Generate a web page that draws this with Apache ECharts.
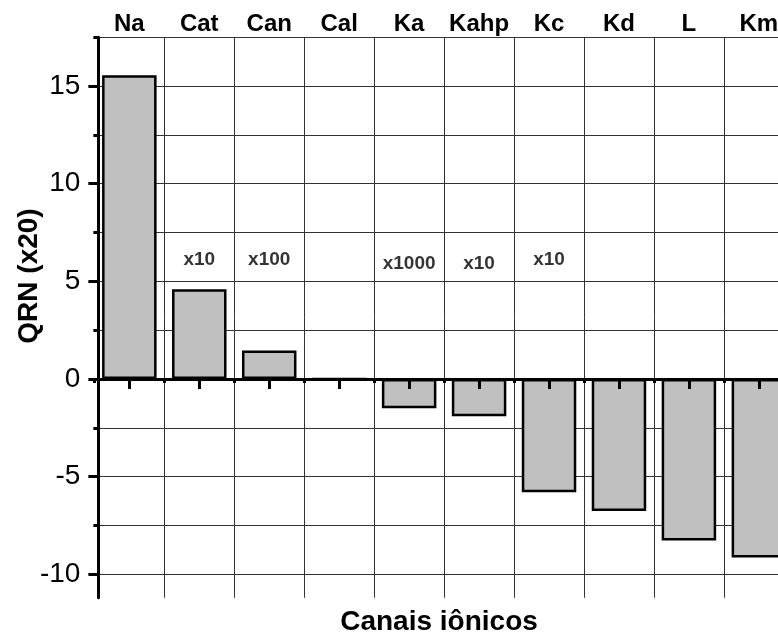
<!DOCTYPE html>
<html>
<head>
<meta charset="utf-8">
<script src="https://cdn.jsdelivr.net/npm/echarts@6/dist/echarts.min.js"></script>
<style>html,body{margin:0;padding:0;background:#fff;overflow:hidden;width:778px;height:639px;}#c{width:800px;height:639px;}</style>
</head>
<body>
<div id="c"></div>
<script>
const categories = ['Na', 'Cat', 'Can', 'Cal', 'Ka', 'Kahp', 'Kc', 'Kd', 'L', 'Km'];
const values = [15.55, 4.6, 1.46, 0, -1.49, -1.9, -5.79, -6.75, -8.27, -9.14];
const majorTicks = [-10, -5, 0, 5, 10, 15];
const minorTicks = [-10, -7.5, -5, -2.5, 0, 2.5, 5, 7.5, 10, 12.5, 15, 17.5];
const annotCats = ['Cat', 'Can', 'Ka', 'Kahp', 'Kc'];
const annotTexts = ['x10', 'x100', 'x1000', 'x10', 'x10'];
const annotY = [6.12, 6.12, 5.91, 5.91, 6.12];

const FF = '"Liberation Sans", Arial, sans-serif';
const chart = echarts.init(document.getElementById('c'), null, {renderer: 'canvas', width: 800, height: 639});
const option = {
  animation: false,
  backgroundColor: '#fff',
  grid: {left: 94.35, right: 6.15, top: 37.2, bottom: 41.2, containLabel: false},
  xAxis: [
    {
      type: 'category', data: categories, position: 'top',
      axisLine: {show: false, onZero: false}, axisTick: {show: false},
      axisLabel: {interval: 0, fontSize: 24, fontWeight: 'bold', color: '#000', fontFamily: FF, margin: 1},
      splitLine: {show: true, interval: function (i) { return i > 0; }, lineStyle: {color: '#333', width: 1}}
    },
    {
      type: 'category', data: categories, position: 'bottom', z: 5,
      axisLine: {show: true, onZero: true, onZeroAxisIndex: 0, lineStyle: {color: '#000', width: 3}},
      axisTick: {show: true, alignWithLabel: true, interval: 0, length: 10, lineStyle: {color: '#000', width: 3}},
      axisLabel: {show: false}, splitLine: {show: false}
    },
    {
      type: 'category', data: categories, position: 'bottom', z: 5,
      axisLine: {show: true, onZero: true, onZeroAxisIndex: 1, lineStyle: {color: 'rgba(0,0,0,0)', width: 0}},
      axisTick: {show: true, interval: 0, length: 4, lineStyle: {color: '#000', width: 3}},
      axisLabel: {show: false}, splitLine: {show: false}
    }
  ],
  yAxis: [
    {
      type: 'value', min: -11.2, max: 17.5, position: 'left', offset: -4, z: 5,
      axisLine: {show: true, onZero: false, lineStyle: {color: '#000', width: 3}},
      axisTick: {show: true, customValues: majorTicks, length: 10, lineStyle: {color: '#000', width: 3}},
      axisLabel: {show: true, customValues: majorTicks, fontSize: 28, color: '#000', fontFamily: FF, margin: 18},
      splitLine: {show: false}
    },
    {
      type: 'value', min: -11.2, max: 17.5, position: 'left', offset: -4,
      axisLine: {show: false, onZero: false},
      axisTick: {show: true, customValues: minorTicks, length: 5, lineStyle: {color: '#000', width: 3}},
      axisLabel: {show: false},
      splitLine: {show: true, lineStyle: {color: '#333', width: 1}}
    }
  ],
  series: [
    {
      type: 'bar', xAxisIndex: 0, yAxisIndex: 0, data: values, barWidth: 54.5, z: 2,
      itemStyle: {color: '#c0c0c0', borderColor: '#000', borderWidth: 2.5}
    },
    {
      type: 'scatter', xAxisIndex: 0, yAxisIndex: 0, z: 6, silent: true,
      data: annotCats.map(function (c, i) { return [c, annotY[i]]; }),
      symbolSize: 1, itemStyle: {color: 'rgba(0,0,0,0)'},
      label: {show: true, position: 'inside', formatter: function (p) { return annotTexts[p.dataIndex]; },
        fontSize: 19, fontWeight: 'bold', color: '#000', fontFamily: FF}
    }
  ],
  graphic: [
    {type: 'text', x: 439, y: 622, style: {text: 'Canais iônicos', align: 'center', verticalAlign: 'middle', fontSize: 28, fontWeight: 'bold', fontFamily: FF, fill: '#000'}},
    {type: 'text', x: 29, y: 276, rotation: Math.PI / 2, style: {text: 'QRN (x20)', align: 'center', verticalAlign: 'middle', fontSize: 28, fontWeight: 'bold', fontFamily: FF, fill: '#000'}}
  ]
};
chart.setOption(option);
</script>
</body>
</html>
